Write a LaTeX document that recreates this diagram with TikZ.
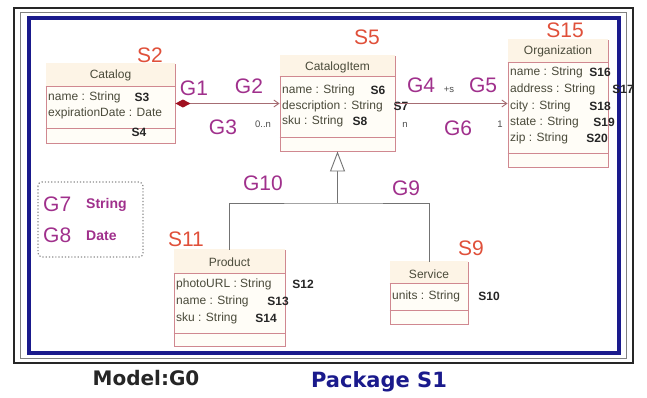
\documentclass[tikz,border=0pt]{standalone}
\usepackage{fontspec}
\setmainfont{Liberation Sans}
\newfontfamily\wideface{DejaVu Sans}
\usetikzlibrary{arrows.meta}

\definecolor{boxline}{HTML}{D08890}
\definecolor{boxfill}{HTML}{FFFDF7}
\definecolor{hdrfill}{HTML}{FDF4E6}
\definecolor{attrtext}{HTML}{4A4A3A}
\definecolor{glab}{HTML}{A0308C}
\definecolor{slab}{HTML}{E0503A}
\definecolor{pkgblue}{HTML}{1A1A8C}
\definecolor{diamondred}{HTML}{A01020}

\tikzset{
  classbox/.style={draw=boxline, fill=boxfill, line width=0.9pt, inner sep=0pt},
  sep/.style={draw=boxline, line width=0.9pt},
  title/.style={font=\fontsize{12}{13}\selectfont, text=attrtext},
  attr/.style={anchor=west, font=\fontsize{12}{13}\selectfont, text=attrtext, inner sep=0pt},
  sbold/.style={font=\fontsize{12}{13}\selectfont\bfseries, text=black!85, inner sep=0pt},
  slabel/.style={font=\fontsize{21}{22}\selectfont, text=slab, inner sep=0pt},
  glabel/.style={font=\fontsize{21}{22}\selectfont, text=glab, inner sep=0pt},
  mult/.style={font=\fontsize{9.5}{10}\selectfont, text=black!70, inner sep=0pt},
  assoc/.style={draw=boxline!80!black, line width=0.9pt},
}

\begin{document}
\begin{tikzpicture}[x=1pt, y=-1pt]
  \useasboundingbox (0,0) rectangle (647,397);
  \fill[white] (0,0) rectangle (647,397);
  \draw[black!85, line width=2.5pt] (14,8) rectangle (633,363);
  \draw[black!50, line width=0.8pt] (20,12) rectangle (626,358);
  \draw[pkgblue, line width=3.2pt] (29,18) rectangle (619,353);

  \node[classbox, minimum width=129pt, minimum height=79pt] (catalog) at (110.5,103.5) {};
  \fill[hdrfill] ([shift={(0.5,-0.5)}]catalog.north west) rectangle ([shift={(-0.5,0)}]catalog.east |- 0,86);
  \draw[sep] (catalog.west |- 0,86) -- (catalog.east |- 0,86);
  \draw[sep] (catalog.west |- 0,128) -- (catalog.east |- 0,128);
  \node[title] (catalogt) at (110.5,75) {Catalog};
  \node[attr] (cat1) at (48,97) {name : String};
  \node[attr] (cat2) at (48,113) {expirationDate : Date};
  \node[sbold] (s3) at (142,97) {S3};
  \node[sbold] (s4) at (139,132) {S4};

  \node[classbox, minimum width=115pt, minimum height=95pt] (item) at (337.5,103.5) {};
  \fill[hdrfill] ([shift={(0.5,-0.5)}]item.north west) rectangle ([shift={(-0.5,0)}]item.east |- 0,76);
  \draw[sep] (item.west |- 0,76) -- (item.east |- 0,76);
  \draw[sep] (item.west |- 0,137) -- (item.east |- 0,137);
  \node[title] (itemt) at (337.5,67) {CatalogItem};
  \node[attr] (item1) at (282,90) {name : String};
  \node[attr] (item2) at (282,106) {description : String};
  \node[attr] (item3) at (282,121) {sku : String};
  \node[sbold] (s6) at (378,90) {S6};
  \node[sbold] (s7) at (401,106) {S7};
  \node[sbold] (s8) at (360,121) {S8};

  \node[classbox, minimum width=100pt, minimum height=127pt] (org) at (558,103.5) {};
  \fill[hdrfill] ([shift={(0.5,-0.5)}]org.north west) rectangle ([shift={(-0.5,0)}]org.east |- 0,62);
  \draw[sep] (org.west |- 0,62) -- (org.east |- 0,62);
  \draw[sep] (org.west |- 0,153) -- (org.east |- 0,153);
  \node[title] (orgt) at (558,51) {Organization};
  \node[attr] (org1) at (510,72) {name : String};
  \node[attr] (org2) at (510,89) {address : String};
  \node[attr] (org3) at (510,106) {city : String};
  \node[attr] (org4) at (510,122) {state : String};
  \node[attr] (org5) at (510,138) {zip : String};
  \node[sbold] (s16) at (600,72) {S16};
  \node[sbold] (s17) at (623,89) {S17};
  \node[sbold] (s18) at (600,106) {S18};
  \node[sbold] (s19) at (604,122) {S19};
  \node[sbold] (s20) at (597,138) {S20};

  \node[classbox, minimum width=111pt, minimum height=96pt] (product) at (229.5,298) {};
  \fill[hdrfill] ([shift={(0.5,-0.5)}]product.north west) rectangle ([shift={(-0.5,0)}]product.east |- 0,273);
  \draw[sep] (product.west |- 0,273) -- (product.east |- 0,273);
  \draw[sep] (product.west |- 0,333) -- (product.east |- 0,333);
  \node[title] (productt) at (229.5,262) {Product};
  \node[attr] (prod1) at (176,284) {photoURL : String};
  \node[attr] (prod2) at (176,301) {name : String};
  \node[attr] (prod3) at (176,318) {sku : String};
  \node[sbold] (s12) at (303,284) {S12};
  \node[sbold] (s13) at (278,301) {S13};
  \node[sbold] (s14) at (266,318) {S14};

  \node[classbox, minimum width=78pt, minimum height=62pt] (service) at (429,293) {};
  \fill[hdrfill] ([shift={(0.5,-0.5)}]service.north west) rectangle ([shift={(-0.5,0)}]service.east |- 0,283);
  \draw[sep] (service.west |- 0,283) -- (service.east |- 0,283);
  \draw[sep] (service.west |- 0,310) -- (service.east |- 0,310);
  \node[title] (servicet) at (429,274) {Service};
  \node[attr] (serv1) at (392,296) {units : String};
  \node[sbold] (s10) at (489,296) {S10};

  \draw[assoc, {Diamond[length=15pt, width=8pt, fill=diamondred, color=diamondred]}-{Straight Barb[length=5pt, width=7pt]}]
    (catalog.east) -- (catalog.east -| item.west);
  \draw[assoc, -{Straight Barb[length=5pt, width=7pt]}] (item.east) -- (item.east -| org.west);

  \coordinate (fork) at (item.south |- 0,203);
  \draw[black!55, line width=0.9pt] (product.north) |- (fork) -| (service.north);
  \draw[black!55, line width=0.9pt, -{Triangle[open, length=20pt, width=15pt, fill=white]}] (fork) -- (item.south);

  \node[slabel] (s2) at (150,55) {S2};
  \node[slabel] (s5) at (367,37) {S5};
  \node[slabel] (s15) at (565,30) {S15};
  \node[slabel] (s11) at (186,239) {S11};
  \node[slabel] (s9) at (471,248) {S9};

  \node[glabel] (g1) at (194,88) {G1};
  \node[glabel] (g2) at (249,86) {G2};
  \node[glabel] (g3) at (223,127) {G3};
  \node[glabel] (g4) at (421,85) {G4};
  \node[glabel] (g5) at (483,85) {G5};
  \node[glabel] (g6) at (458,128) {G6};
  \node[glabel] (g10) at (263,183) {G10};
  \node[glabel] (g9) at (406,188) {G9};

  \node[mult] (m0n) at (263,124) {0..n};
  \node[mult] (mplus) at (449,90) {+s};
  \node[mult] (mn) at (405,125) {n};
  \node[mult] (mone) at (500,124) {1};

  \draw[black!45, line width=1.2pt, dotted, rounded corners=4pt] (38,182) rectangle (143,257);
  \node[glabel, anchor=west] (g7) at (43,204) {G7};
  \node[glabel, anchor=west] (g8) at (43,235) {G8};
  \node[anchor=west, font=\fontsize{14}{15}\selectfont\bfseries, text=glab, inner sep=0pt] (tstring) at (86,205) {String};
  \node[anchor=west, font=\fontsize{14}{15}\selectfont\bfseries, text=glab, inner sep=0pt] (tdate) at (86,236) {Date};

  \node[font=\wideface\fontsize{20}{22}\selectfont\bfseries, text=black!85] (model) at (146,378) {Model:G0};
  \node[font=\wideface\fontsize{21}{23}\selectfont\bfseries, text=pkgblue] (pkg) at (379,382) {Package S1};
\end{tikzpicture}
\end{document}
